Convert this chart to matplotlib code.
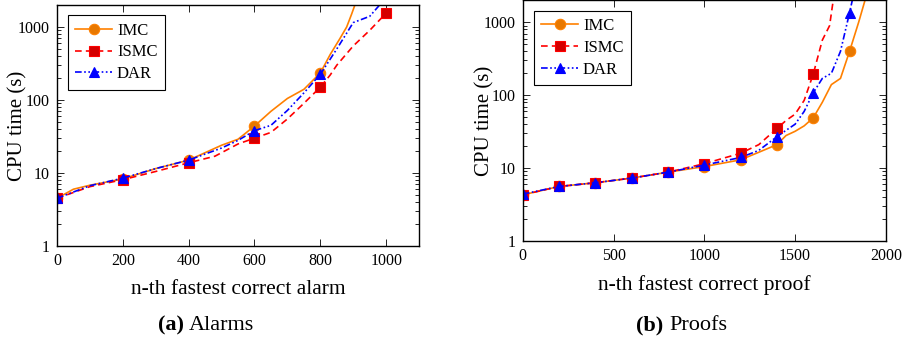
import numpy as np
import matplotlib.pyplot as plt
from matplotlib.ticker import FixedLocator, FixedFormatter, LogLocator, NullFormatter

# (a) Alarms
alarm_imc_x = [0, 50, 100, 200, 300, 400, 500, 550, 600, 650, 700, 750, 800, 830, 860, 880, 895, 905]
alarm_imc_y = [4.5, 6.0, 6.8, 8.3, 11.5, 15, 24, 29, 44, 70, 105, 140, 235, 420, 700, 1000, 1500, 2000]
alarm_ismc_x = [0, 100, 200, 300, 400, 480, 550, 600, 650, 700, 750, 800, 830, 850, 900, 950, 1000]
alarm_ismc_y = [4.5, 6.5, 8.1, 10.5, 13.8, 17, 25, 30, 36, 55, 90, 150, 220, 300, 550, 900, 1550]
alarm_dar_x = [0, 100, 200, 300, 400, 500, 550, 600, 650, 700, 750, 800, 850, 900, 950, 980]
alarm_dar_y = [4.5, 6.7, 8.5, 11.5, 15, 22, 28, 38, 45, 72, 125, 225, 500, 1150, 1400, 2000]

# (b) Proofs
proof_imc_x = [0, 200, 400, 600, 800, 1000, 1200, 1300, 1400, 1450, 1500, 1550, 1600, 1650, 1700, 1750, 1800, 1850, 1885]
proof_imc_y = [4.3, 5.6, 6.3, 7.3, 8.8, 10.5, 13, 16.5, 21, 28, 32, 38, 49, 80, 140, 170, 400, 1000, 2000]
proof_ismc_x = [0, 200, 400, 600, 800, 1000, 1200, 1300, 1400, 1450, 1500, 1550, 1600, 1650, 1690, 1710]
proof_ismc_y = [4.3, 5.6, 6.3, 7.3, 8.8, 11.5, 16, 21, 35, 45, 55, 85, 195, 570, 900, 2000]
proof_dar_x = [0, 200, 400, 600, 800, 1000, 1200, 1300, 1400, 1450, 1500, 1550, 1600, 1650, 1700, 1750, 1800, 1815]
proof_dar_y = [4.4, 5.6, 6.3, 7.3, 8.8, 11, 14, 17.5, 27, 33, 40, 60, 108, 170, 200, 400, 1350, 2000]

plt.rcParams['font.family'] = ['Liberation Serif', 'DejaVu Serif']

ORANGE = '#ff8000'
RED = '#ff0000'
BLUE = '#0000ff'


def marks(xs):
    return [i for i, x in enumerate(xs) if x % 200 == 0]


def draw_panel(ax, series, xmax, xticks, xlabel, ylab_x):
    styles = [
        ('IMC', ORANGE, '-', 'o', '#e87800'),
        ('ISMC', RED, (0, (4, 2.5)), 's', '#d40000'),
        ('DAR', BLUE, (0, (4, 1.5, 1, 1.5, 1, 1.5)), '^', BLUE),
    ]
    for (xs, ys), (name, col, ls, mk, mcol) in zip(series, styles):
        ax.plot(xs, ys, color=col, linestyle=ls, linewidth=1.2, marker=mk,
                markersize=7.5, markevery=marks(xs),
                markerfacecolor=mcol, markeredgecolor=col, markeredgewidth=0.8,
                label=name)
    ax.set_yscale('log')
    ax.set_xlim(0, xmax)
    ax.set_ylim(1, 2000)
    ax.xaxis.set_major_locator(FixedLocator(xticks))
    ax.yaxis.set_major_locator(FixedLocator([1, 10, 100, 1000]))
    ax.yaxis.set_major_formatter(FixedFormatter(['1', '10', '100', '1000']))
    ax.yaxis.set_minor_locator(LogLocator(base=10, subs=np.arange(2, 10)))
    ax.yaxis.set_minor_formatter(NullFormatter())
    ax.tick_params(which='both', direction='in', top=True, right=True, labelsize=11.5, width=0.6)
    ax.tick_params(which='major', length=5)
    ax.tick_params(axis='y', which='major', pad=5)
    ax.tick_params(axis='x', which='major', pad=5)
    ax.tick_params(which='minor', length=3)
    for sp in ax.spines.values():
        sp.set_linewidth(1.0)
    ax.set_xlabel(xlabel, fontsize=15.5, labelpad=8)
    ax.set_ylabel('CPU time (s)', fontsize=15)
    ax.yaxis.set_label_coords(ylab_x, 0.5)
    leg = ax.legend(loc='upper left', fontsize=12, fancybox=False, edgecolor='black',
                    framealpha=1, handlelength=2.2, handletextpad=0.3, borderpad=0.45,
                    labelspacing=0.35, borderaxespad=0, bbox_to_anchor=(0.03, 0.958))
    leg.get_frame().set_linewidth(0.8)


fig = plt.figure(figsize=(9.03, 3.42), dpi=100)
ax1 = fig.add_axes([0.0631, 0.2807, 0.401, 0.7046])
ax2 = fig.add_axes([0.579, 0.2953, 0.402, 0.7035])

draw_panel(ax1, [(alarm_imc_x, alarm_imc_y), (alarm_ismc_x, alarm_ismc_y), (alarm_dar_x, alarm_dar_y)],
           1100, [0, 200, 400, 600, 800, 1000], 'n-th fastest correct alarm', -0.081)
draw_panel(ax2, [(proof_imc_x, proof_imc_y), (proof_ismc_x, proof_ismc_y), (proof_dar_x, proof_dar_y)],
           2000, [0, 500, 1000, 1500, 2000], 'n-th fastest correct proof', -0.079)

# sub-captions
cap_y = 1 - 325 / 342
fig.text(184 / 903, cap_y, '(a)', fontsize=16, fontweight='bold', ha='right', va='center')
fig.text(189 / 903, cap_y, 'Alarms', fontsize=16, ha='left', va='center')
fig.text(663 / 903, cap_y, '(b)', fontsize=16, fontweight='bold', ha='right', va='center')
fig.text(669 / 903, cap_y, 'Proofs', fontsize=16, ha='left', va='center')

fig.savefig('out.png', dpi=100)
